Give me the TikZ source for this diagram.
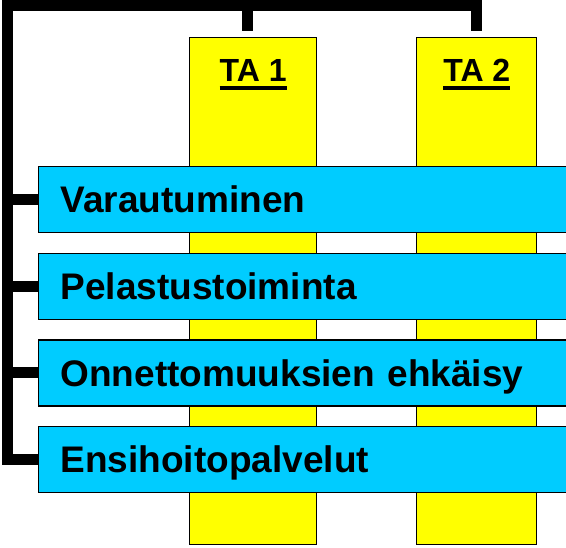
\documentclass[tikz,border=0pt]{standalone}
\usepackage{fontspec}
\setmainfont{Liberation Sans}
\usetikzlibrary{positioning}
\definecolor{tayellow}{rgb}{1,1,0}
\definecolor{areablue}{rgb}{0,0.8,1}
\newcommand{\tauline}[1]{\setbox0\hbox{#1}\rlap{\copy0}\rule[-8pt]{\wd0}{4pt}}
\tikzstyle{bar}=[%
      rectangle, draw=black, line width=1.2pt, fill=tayellow, anchor=north west,
      minimum width=127pt, minimum height=507pt, inner sep=0pt
]
\tikzstyle{area}=[%
      rectangle, draw=black, line width=1.2pt, fill=areablue, anchor=north west,
      minimum height=66pt, text width=488pt, inner xsep=22pt, inner ysep=0pt, align=left,
      text height=26.5pt, text depth=0pt, font=\fontsize{37}{40}\selectfont\bfseries
]
\tikzstyle{talabel}=[%
      font=\fontsize{32}{36}\selectfont\bfseries, inner sep=0pt, anchor=base
]
\tikzstyle{link}=[%
      draw=black, line width=11pt, line join=miter
]
\begin{document}
\begin{tikzpicture}[x=1pt, y=-1pt]
    \useasboundingbox (0,0) rectangle (566,548);

    \node[bar]                     (ta1) at (189,37)           {};
    \node[bar, minimum width=120pt] (ta2) [right = 99pt of ta1] {};
    \node[talabel] (ta1label) at ([yshift=-45pt]ta1.north) {\tauline{TA 1}};
    \node[talabel] (ta2label) at ([yshift=-45pt]ta2.north) {\tauline{TA 2}};

    \node[area] (varautuminen) at (38,166)                     {Varautuminen};
    \node[area] (pelastus)  [below = 19.5pt of varautuminen]   {Pelastustoiminta};
    \node[area] (ehkaisy)   [below = 19.5pt of pelastus]       {Onnettomuuksien ehkäisy};
    \node[area] (ensihoito) [below = 19.5pt of ehkaisy]        {Ensihoitopalvelut};

    \coordinate (corner) at (7.5,6);
    \draw[link] ([yshift=6pt]ta2.north) |- (corner) |- (ensihoito.west);
    \draw[link] ([shift={(-6pt,6pt)}]ta1.north) |- (corner);
    \foreach \a in {varautuminen, pelastus, ehkaisy}
        \draw[link] (\a.west) -- (\a.west -| corner);

\end{tikzpicture}
\end{document}
